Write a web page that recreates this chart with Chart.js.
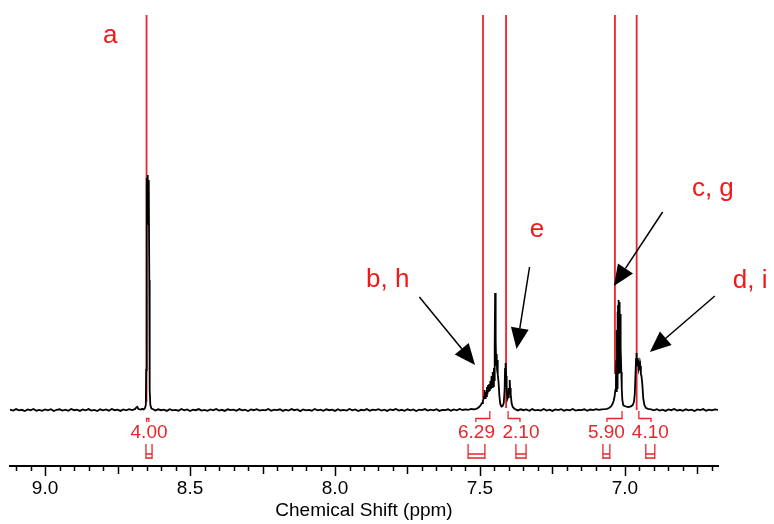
<!DOCTYPE html>
<html>
<head>
<meta charset="utf-8">
<title>1H NMR spectrum</title>
<script src="https://cdn.jsdelivr.net/npm/chart.js@4.4.1/dist/chart.umd.min.js"></script>
<style>
    html, body { margin: 0; padding: 0; background: #fff; }
    #wrap { width: 774px; height: 524px; }
</style>
</head>
<body>
<div id="wrap"><canvas id="nmr-chart" width="774" height="524"></canvas></div>
<script>
// spectrum, [ppm, intensity]
const baselineLeft = [
    [9.121, 0.3], [9.11, -0.6], [9.10, 0.9], [9.09, -0.4], [9.08, 0.2], [9.07, -1.0], [9.06, 0.6], [9.05, -0.2],
    [9.04, 1.1], [9.03, -0.7], [9.02, 0.1], [9.01, -0.9], [9.00, 0.5], [8.99, -0.3], [8.98, 0.8], [8.97, -1.1],
    [8.96, 0.2], [8.95, 0.7], [8.94, -0.5], [8.93, 0.3], [8.92, -0.8], [8.91, 1.0], [8.90, -0.2], [8.89, 0.4],
    [8.88, -0.9], [8.87, 0.6], [8.86, -0.4], [8.85, 0.9], [8.84, -0.6], [8.83, 0.1], [8.82, -1.0], [8.81, 0.7],
    [8.80, -0.3], [8.79, 0.5], [8.78, -0.7], [8.77, 1.0], [8.76, -0.2], [8.75, 0.3], [8.74, -0.9], [8.73, 0.6],
    [8.72, -0.4], [8.71, 0.8], [8.70, -0.1], [8.69, 0.9], [8.685, 2.5], [8.682, 3.2], [8.678, 1.0], [8.67, 0.4],
    [8.665, 1.2], [8.66, 0.6]
];
const peakA = [
    [8.656, 1.5], [8.6525, 5], [8.6512, 40], [8.650, 150], [8.649, 232], [8.6478, 200], [8.6466, 235],
    [8.6454, 185], [8.6442, 230], [8.643, 205], [8.6418, 228], [8.6405, 130], [8.6392, 20], [8.637, 5],
    [8.633, 1.5], [8.627, 0.8]
];
const baselineMid = [
    [8.62, -0.5], [8.61, 0.7], [8.60, -0.2], [8.59, 0.4], [8.58, -0.9], [8.57, 0.8], [8.56, -0.3], [8.55, 0.2],
    [8.54, -0.7], [8.53, 1.0], [8.52, -0.4], [8.51, 0.5], [8.50, -1.0], [8.49, 0.3], [8.48, -0.2], [8.47, 0.9],
    [8.46, -0.6], [8.45, 0.1], [8.44, -0.8], [8.43, 0.6], [8.42, -0.3], [8.41, 1.1], [8.40, -0.5], [8.39, 0.2],
    [8.38, -0.9], [8.37, 0.7], [8.36, -0.1], [8.35, 0.4], [8.34, -0.7], [8.33, 0.9], [8.32, -0.4], [8.31, 0.3],
    [8.30, -1.0], [8.29, 0.6], [8.28, -0.2], [8.27, 0.8], [8.26, -0.6], [8.25, 0.2], [8.24, -0.3], [8.23, 1.0],
    [8.22, -0.8], [8.21, 0.4], [8.20, -0.1], [8.19, 0.7], [8.18, -0.9], [8.17, 0.3], [8.16, -0.5], [8.15, 0.9],
    [8.14, -0.2], [8.13, 0.5], [8.12, -1.1], [8.11, 0.6], [8.10, -0.3], [8.09, 0.2], [8.08, -0.7], [8.07, 1.0],
    [8.06, -0.4], [8.05, 0.3], [8.04, -0.8], [8.03, 0.7], [8.02, -0.2], [8.01, 0.4], [8.00, -0.9], [7.99, 0.8],
    [7.98, -0.5], [7.97, 0.1], [7.96, -0.6], [7.95, 1.1], [7.94, -0.3], [7.93, 0.5], [7.92, -1.0], [7.91, 0.2],
    [7.90, -0.4], [7.89, 0.9], [7.88, -0.7], [7.87, 0.3], [7.86, -0.1], [7.85, 0.8], [7.84, -0.6], [7.83, 0.4],
    [7.82, -0.9], [7.81, 0.6], [7.80, -0.2], [7.79, 1.0], [7.78, -0.5], [7.77, 0.2], [7.76, -0.8], [7.75, 0.7],
    [7.74, -0.3], [7.73, 0.5], [7.72, -1.0], [7.71, 0.3], [7.70, -0.1], [7.69, 0.9], [7.68, -0.6], [7.67, 0.4],
    [7.66, -0.4], [7.65, 0.8], [7.64, -0.9], [7.63, 0.2], [7.62, -0.2], [7.61, 0.7], [7.60, -0.7], [7.59, 0.5],
    [7.58, -0.3], [7.57, 1.0], [7.56, 0.0], [7.55, 0.6], [7.54, 0.2], [7.53, 1.0], [7.52, 0.6]
];
const peakBH = [
    [7.513, 1.2], [7.508, 1.8], [7.503, 3], [7.497, 5], [7.493, 7], [7.490, 9], [7.486, 13], [7.484, 20],
    [7.482, 12], [7.480, 18], [7.478, 14], [7.476, 23], [7.474, 16], [7.472, 25], [7.470, 18], [7.468, 26],
    [7.466, 19], [7.464, 29], [7.462, 21], [7.460, 34], [7.458, 23], [7.456, 38], [7.454, 24], [7.452, 42],
    [7.4505, 30], [7.4492, 64], [7.4478, 117], [7.4465, 90], [7.4452, 70], [7.444, 45], [7.4425, 56],
    [7.441, 40], [7.4395, 50], [7.438, 36], [7.436, 28], [7.433, 14], [7.430, 6], [7.426, 3.5]
];
const peakE = [
    [7.422, 4], [7.418, 7], [7.415, 20], [7.4135, 42], [7.4122, 30], [7.411, 47], [7.4095, 34], [7.408, 24],
    [7.4055, 11], [7.403, 13], [7.4005, 22], [7.399, 18], [7.3975, 30], [7.396, 22], [7.394, 16], [7.391, 7],
    [7.387, 3], [7.382, 1.5], [7.377, 0.6]
];
const baselineMid2 = [
    [7.37, -0.4], [7.36, 0.7], [7.35, -0.2], [7.34, 0.5], [7.33, -0.8], [7.32, 0.9], [7.31, -0.3], [7.30, 0.2],
    [7.29, -0.6], [7.28, 1.0], [7.27, -0.5], [7.26, 0.3], [7.25, -0.9], [7.24, 0.6], [7.23, -0.1], [7.22, 0.8],
    [7.21, -0.7], [7.20, 0.4], [7.19, -0.3], [7.18, 1.0], [7.17, -0.6], [7.16, 0.2], [7.15, -0.2], [7.14, 0.7],
    [7.13, -0.8], [7.12, 0.5], [7.11, -0.1], [7.10, 0.9], [7.09, 0.1], [7.08, 0.6], [7.07, 0.9]
];
const peakCG = [
    [7.062, 1.2], [7.055, 2], [7.048, 3.5], [7.043, 6], [7.039, 9], [7.036, 13], [7.033, 20], [7.031, 32],
    [7.0298, 50], [7.0288, 18], [7.0278, 80], [7.0268, 22], [7.0258, 98], [7.0248, 30], [7.0238, 105],
    [7.0228, 36], [7.0218, 110], [7.0208, 40], [7.0198, 108], [7.0188, 42], [7.0178, 104], [7.0168, 38],
    [7.0158, 96], [7.0148, 40], [7.0138, 62], [7.0125, 38], [7.011, 22], [7.009, 10], [7.006, 5]
];
const peakDI = [
    [7.002, 4], [6.996, 3.5], [6.990, 3], [6.984, 3.2], [6.978, 3.8], [6.973, 5], [6.969, 8], [6.966, 16],
    [6.9635, 36], [6.9615, 52], [6.9605, 57], [6.9592, 46], [6.958, 52], [6.9565, 44], [6.955, 50], [6.953, 42],
    [6.951, 46], [6.949, 40], [6.947, 44], [6.945, 36], [6.943, 34], [6.940, 26], [6.937, 12], [6.933, 5],
    [6.928, 2.2], [6.921, 1.2]
];
const baselineRight = [
    [6.91, 0.6], [6.90, -0.3], [6.89, 0.8], [6.88, -0.6], [6.87, 0.3], [6.86, -0.9], [6.85, 0.5], [6.84, -0.2],
    [6.83, 1.0], [6.82, -0.5], [6.81, 0.2], [6.80, -0.8], [6.79, 0.7], [6.78, -0.3], [6.77, 0.4], [6.76, -1.0],
    [6.75, 0.6], [6.74, -0.1], [6.73, 0.9], [6.72, -0.7], [6.71, 0.3], [6.70, -0.4], [6.69, 0.6], [6.679, 0.1]
];

// integral curves (rise far off the top)
const integralCurveShift = [8.650, 7.4895, 7.410, 7.0345, 6.9595];
const integralCurveStart = [8, 12, 2, 36, 0];

// integration regions and values
const integralValues = ['4.00', '6.29', '2.10', '5.90', '4.10'];
const integralFrom = [8.652, 7.541, 7.376, 7.076, 6.928];
const integralTo = [8.631, 7.483, 7.341, 7.052, 6.897];
const connectorFrom = [8.650, 7.514, 7.403, 7.062, 6.952];
const connectorTo = [8.642, 7.466, 7.362, 7.010, 6.910];

// assignments: text, [ppm, intensity] of text start, arrow tail, arrow tip
const peakLabels = ['a', 'b, h', 'e', 'c, g', 'd, i'];
const labelAt = [[8.800, 367], [7.893, 123], [7.328, 173], [6.769, 214], [6.628, 122]];
const arrowFrom = [null, [7.709, 113], [7.329, 143], [6.870, 198], [6.690, 114]];
const arrowTo = [null, [7.517, 45], [7.374, 61], [7.038, 124], [6.914, 58]];

const shiftMin = 6.679;
const shiftMax = 9.121;

const spectrum = [].concat(baselineLeft, peakA, baselineMid, peakBH, peakE, baselineMid2, peakCG, peakDI, baselineRight)
    .map(p => ({ x: p[0], y: p[1] }));

const RED = '#e8262a';
const FONT = "'Liberation Sans', Arial, sans-serif";

function isStep(v, step) {
    const r = v / step;
    return Math.abs(r - Math.round(r)) < 1e-6;
}

const integralDatasets = integralCurveShift.map((ppm, i) => ({
    data: [{ x: ppm, y: integralCurveStart[i] }, { x: ppm, y: 500 }],
    borderColor: RED,
    borderWidth: 1.8,
    pointRadius: 0,
    order: 1
}));

// ticks, integral brackets, labels and arrows
const nmrDecor = {
    id: 'nmrDecor',
    afterDraw(chart) {
        const ctx = chart.ctx;
        const xs = chart.scales.x;
        const ys = chart.scales.y;
        ctx.save();

        // x ticks: long at 0.5, medium at 0.25, short at 0.05
        ctx.strokeStyle = '#000';
        ctx.lineWidth = 1.5;
        xs.ticks.forEach(t => {
            const px = Math.round(xs.getPixelForValue(t.value)) + 0.5;
            const len = isStep(t.value, 0.5) ? 10 : (isStep(t.value, 0.25) ? 8 : 5);
            ctx.beginPath();
            ctx.moveTo(px, xs.top);
            ctx.lineTo(px, xs.top + len);
            ctx.stroke();
        });

        const y0 = ys.getPixelForValue(0);

        // integral brackets
        ctx.strokeStyle = RED;
        ctx.fillStyle = RED;
        ctx.lineWidth = 1.3;
        integralValues.forEach((val, i) => {
            const c1 = xs.getPixelForValue(connectorFrom[i]);
            const c2 = xs.getPixelForValue(connectorTo[i]);
            const leftJoin = connectorTo.some((v, j) => j !== i && Math.abs(v - connectorFrom[i]) < 0.1);
            const rightJoin = connectorFrom.some((v, j) => j !== i && Math.abs(v - connectorTo[i]) < 0.1);
            const yc = y0 + 8.5;
            ctx.beginPath();
            ctx.moveTo(c1, leftJoin ? y0 + 1 : y0 + 12);
            ctx.lineTo(c1, yc);
            ctx.lineTo(c2, yc);
            ctx.lineTo(c2, rightJoin ? y0 + 1 : y0 + 12);
            ctx.stroke();

            const h1 = xs.getPixelForValue(integralFrom[i]);
            const h2 = xs.getPixelForValue(integralTo[i]);
            ctx.beginPath();
            ctx.moveTo(h1, y0 + 34);
            ctx.lineTo(h1, y0 + 49);
            ctx.moveTo(h2, y0 + 34);
            ctx.lineTo(h2, y0 + 49);
            ctx.moveTo(h1, y0 + 44);
            ctx.lineTo(h2, y0 + 44);
            ctx.moveTo(h1, y0 + 48);
            ctx.lineTo(h2, y0 + 48);
            ctx.stroke();

            ctx.font = '19px ' + FONT;
            ctx.textAlign = 'center';
            ctx.textBaseline = 'middle';
            ctx.fillText(val, (h1 + h2) / 2, y0 + 23);
        });

        // assignment labels
        ctx.font = '26px ' + FONT;
        ctx.textAlign = 'left';
        ctx.textBaseline = 'alphabetic';
        ctx.fillStyle = '#f01818';
        peakLabels.forEach((txt, i) => {
            ctx.fillText(txt, xs.getPixelForValue(labelAt[i][0]), ys.getPixelForValue(labelAt[i][1]));
        });

        // arrows
        ctx.strokeStyle = '#000';
        ctx.fillStyle = '#000';
        ctx.lineWidth = 1.5;
        arrowFrom.forEach((from, i) => {
            if (!from) return;
            const x1 = xs.getPixelForValue(from[0]);
            const y1 = ys.getPixelForValue(from[1]);
            const x2 = xs.getPixelForValue(arrowTo[i][0]);
            const y2 = ys.getPixelForValue(arrowTo[i][1]);
            const ang = Math.atan2(y2 - y1, x2 - x1);
            const headLen = 21;
            const headW = 9;
            const bx = x2 - headLen * Math.cos(ang);
            const by = y2 - headLen * Math.sin(ang);
            ctx.beginPath();
            ctx.moveTo(x1, y1);
            ctx.lineTo(bx, by);
            ctx.stroke();
            ctx.beginPath();
            ctx.moveTo(x2, y2);
            ctx.lineTo(bx + headW * Math.sin(ang), by - headW * Math.cos(ang));
            ctx.lineTo(bx - headW * Math.sin(ang), by + headW * Math.cos(ang));
            ctx.closePath();
            ctx.fill();
        });

        ctx.restore();
    }
};

const ctx = document.getElementById('nmr-chart').getContext('2d');
const nmrChart = new Chart(ctx, {
    type: 'line',
    data: {
        datasets: [{
            data: spectrum,
            borderColor: '#000',
            borderWidth: 1.8,
            pointRadius: 0,
            tension: 0,
            order: 0
        }].concat(integralDatasets)
    },
    options: {
        responsive: false,
        devicePixelRatio: 1,
        animation: false,
        layout: { padding: { left: 10, right: 56, top: 15, bottom: 0 } },
        plugins: {
            legend: { display: false },
            tooltip: { enabled: false }
        },
        scales: {
            x: {
                type: 'linear',
                reverse: true,
                min: shiftMin,
                max: shiftMax,
                grid: { display: false, drawTicks: false },
                border: { display: true, color: '#000', width: 2 },
                ticks: {
                    stepSize: 0.05,
                    autoSkip: false,
                    maxRotation: 0,
                    includeBounds: false,
                    padding: 11,
                    color: '#000',
                    font: { family: FONT, size: 19 },
                    callback: v => isStep(v, 0.5) ? v.toFixed(1) : ''
                },
                title: {
                    display: true,
                    text: 'Chemical Shift (ppm)',
                    color: '#000',
                    font: { family: FONT, size: 19 },
                    padding: { top: 0, bottom: 2 }
                },
                afterFit: scale => { scale.height = 58; }
            },
            y: {
                display: false,
                min: -56,
                max: 395
            }
        }
    },
    plugins: [nmrDecor]
});
</script>
</body>
</html>
